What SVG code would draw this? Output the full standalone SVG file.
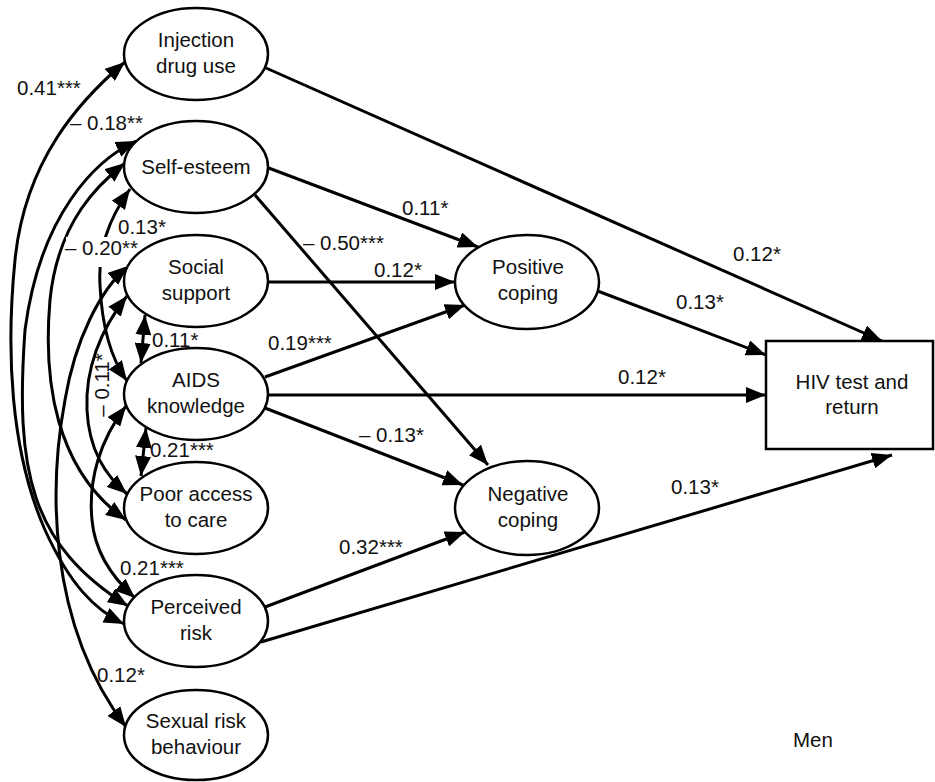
<svg xmlns="http://www.w3.org/2000/svg" width="935" height="782" viewBox="0 0 935 782">
<style>
  text { font-family: "Liberation Sans", Arial, sans-serif; font-size: 20.5px; fill: #111; }
  .c { text-anchor: middle; }
  .node ellipse, .node rect { fill: #fff; stroke: #000; stroke-width: 2.5; }
  .edge { fill: none; stroke: #000; stroke-width: 3; }
</style>
<defs>
  <marker id="ah" viewBox="0 0 20 16" refX="20" refY="8" markerWidth="20" markerHeight="16" markerUnits="userSpaceOnUse" orient="auto-start-reverse">
    <path d="M0,0 L20,8 L0,16 z" fill="#000"/>
  </marker>
</defs>
<rect width="935" height="782" fill="#fff"/>

<g id="connectors">
  <!-- directed paths -->
  <line class="edge" x1="266" y1="68" x2="882" y2="341" marker-end="url(#ah)"/>
  <line class="edge" x1="266" y1="167" x2="478" y2="247" marker-end="url(#ah)"/>
  <line class="edge" x1="255" y1="195" x2="488" y2="465" marker-end="url(#ah)"/>
  <line class="edge" x1="268" y1="282" x2="455" y2="282" marker-end="url(#ah)"/>
  <line class="edge" x1="265" y1="377" x2="465" y2="305" marker-end="url(#ah)"/>
  <line class="edge" x1="268" y1="395" x2="766" y2="395" marker-end="url(#ah)"/>
  <line class="edge" x1="265" y1="408" x2="463" y2="485" marker-end="url(#ah)"/>
  <line class="edge" x1="265" y1="607" x2="465" y2="532" marker-end="url(#ah)"/>
  <line class="edge" x1="261" y1="642" x2="892" y2="455" marker-end="url(#ah)"/>
  <line class="edge" x1="595" y1="290" x2="766" y2="355" marker-end="url(#ah)"/>

  <!-- correlations -->
  <path class="edge" d="M125,62 C80,100 25,160 15,260 C6,350 10,450 45,530 C70,585 95,610 124,624" marker-start="url(#ah)" marker-end="url(#ah)"/>
  <path class="edge" d="M136,141 C95,160 40,215 25,330 C15,470 30,545 128,606" marker-start="url(#ah)" marker-end="url(#ah)"/>
  <path class="edge" d="M125,163 C100,183 58,220 50,300 C43,380 55,470 126,520" marker-start="url(#ah)" marker-end="url(#ah)"/>
  <path class="edge" d="M130,189 C108,220 98,250 100,285 C102,330 112,360 127,381" marker-start="url(#ah)" marker-end="url(#ah)"/>
  <path class="edge" d="M128,266 C100,290 75,340 65,400 C50,480 45,620 126,727" marker-start="url(#ah)" marker-end="url(#ah)"/>
  <path class="edge" d="M127,296 C100,330 85,370 87,410 C89,450 105,475 127,494" marker-start="url(#ah)" marker-end="url(#ah)"/>
  <path class="edge" d="M126,406 C100,440 88,480 92,520 C95,555 115,580 135,598" marker-start="url(#ah)" marker-end="url(#ah)"/>
  <line class="edge" x1="145" y1="315" x2="141" y2="363" marker-start="url(#ah)" marker-end="url(#ah)"/>
  <line class="edge" x1="146" y1="428" x2="141" y2="476" marker-start="url(#ah)" marker-end="url(#ah)"/>
</g>

<g id="labels">
  <text x="17" y="95">0.41***</text>
  <text x="70" y="130">– 0.18**</text>
  <text x="118" y="234">0.13*</text>
  <rect x="66" y="237" width="76" height="30" fill="#fff"/>
  <text x="65" y="255">– 0.20**</text>
  <text x="152" y="347">0.11*</text>
  <text x="0" y="0" transform="translate(109,385) rotate(-90)" class="c">– 0.11*</text>
  <text x="150" y="457">0.21***</text>
  <text x="120" y="575">0.21***</text>
  <text x="97" y="682">0.12*</text>
  <text x="402" y="215">0.11*</text>
  <text x="303" y="250">– 0.50***</text>
  <text x="374" y="277">0.12*</text>
  <text x="268" y="350">0.19***</text>
  <text x="359" y="442">– 0.13*</text>
  <text x="339" y="554">0.32***</text>
  <text x="733" y="261">0.12*</text>
  <text x="676" y="309">0.13*</text>
  <text x="618" y="384">0.12*</text>
  <text x="671" y="494">0.13*</text>
</g>

<g id="n-injection" class="node"><ellipse cx="196" cy="54" rx="72" ry="46"/><text class="c" x="196" y="47">Injection</text><text class="c" x="196" y="73">drug use</text></g>
<g id="n-selfesteem" class="node"><ellipse cx="196" cy="167" rx="72" ry="46"/><text class="c" x="196" y="174">Self-esteem</text></g>
<g id="n-social" class="node"><ellipse cx="196" cy="281" rx="72" ry="46"/><text class="c" x="196" y="274">Social</text><text class="c" x="196" y="300">support</text></g>
<g id="n-aids" class="node"><ellipse cx="196" cy="394" rx="72" ry="46"/><text class="c" x="196" y="387">AIDS</text><text class="c" x="196" y="413">knowledge</text></g>
<g id="n-access" class="node"><ellipse cx="196" cy="508" rx="72" ry="46"/><text class="c" x="196" y="501">Poor access</text><text class="c" x="196" y="527">to care</text></g>
<g id="n-risk" class="node"><ellipse cx="196" cy="621" rx="72" ry="46"/><text class="c" x="196" y="614">Perceived</text><text class="c" x="196" y="640">risk</text></g>
<g id="n-sexual" class="node"><ellipse cx="196" cy="735" rx="72" ry="45"/><text class="c" x="196" y="728">Sexual risk</text><text class="c" x="196" y="754">behaviour</text></g>
<g id="n-positive" class="node"><ellipse cx="527" cy="282" rx="72" ry="47"/><text class="c" x="528" y="274">Positive</text><text class="c" x="528" y="300">coping</text></g>
<g id="n-negative" class="node"><ellipse cx="527" cy="508" rx="72" ry="47"/><text class="c" x="528" y="501">Negative</text><text class="c" x="528" y="527">coping</text></g>
<g id="n-hiv" class="node"><rect x="766" y="341" width="167" height="108"/><text class="c" x="852" y="389">HIV test and</text><text class="c" x="852" y="414">return</text></g>
<text x="813" y="747" class="c">Men</text>
</svg>
